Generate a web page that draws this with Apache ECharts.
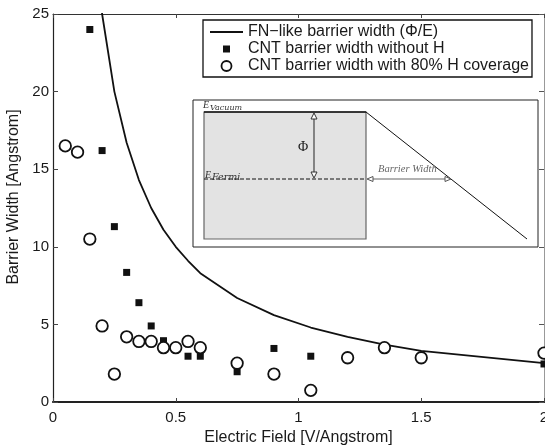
<!DOCTYPE html>
<html>
<head>
<meta charset="utf-8">
<style>
  html, body { margin: 0; padding: 0; background: #fff; }
  #main { width: 545px; height: 445px; }
</style>
<script src="https://cdn.jsdelivr.net/npm/echarts@6/dist/echarts.min.js"></script>
</head>
<body>
<div id="main"></div>
<script>
// field values (V/Angstrom) and barrier widths (Angstrom)
var fnField = [0.15, 0.2, 0.25, 0.3, 0.35, 0.4, 0.45, 0.5, 0.55, 0.6, 0.75, 0.9, 1.05, 1.2, 1.35, 1.5, 2];
var fnWidth = [33.3, 25, 20, 16.7, 14.3, 12.5, 11.1, 10, 9.1, 8.3, 6.7, 5.6, 4.8, 4.2, 3.7, 3.3, 2.5];

var noHField = [0.15, 0.2, 0.25, 0.3, 0.35, 0.4, 0.45, 0.55, 0.6, 0.75, 0.9, 1.05, 2];
var noHWidth = [24, 16.2, 11.3, 8.35, 6.4, 4.9, 3.95, 2.95, 2.95, 1.95, 3.45, 2.95, 2.45];

var hField = [0.05, 0.1, 0.15, 0.2, 0.25, 0.3, 0.35, 0.4, 0.45, 0.5, 0.55, 0.6, 0.75, 0.9, 1.05, 1.2, 1.35, 1.5, 2];
var hWidth = [16.5, 16.1, 10.5, 4.9, 1.8, 4.2, 3.9, 3.9, 3.5, 3.5, 3.9, 3.5, 2.5, 1.8, 0.75, 2.85, 3.5, 2.85, 3.15];

var seriesNames = [
  'FN\u2212like barrier width (\u03A6/E)',
  'CNT barrier width without H',
  'CNT barrier width with 80% H coverage'
];

function pairs(xs, ys) {
  return xs.map(function (x, i) { return [x, ys[i]]; });
}

var sans = "'Liberation Sans', Arial, Helvetica, sans-serif";
var serif = "'Liberation Serif', 'DejaVu Serif', serif";
var wideSerif = "'DejaVu Serif', serif";
var ink = '#1a1a1a';

var chart = echarts.init(document.getElementById('main'), null, { renderer: 'canvas' });

// inset sketch (energy diagram), pixel placed like the pasted picture in the figure
var inset = [
  { type: 'rect', shape: { x: 193, y: 100, width: 345, height: 147 },
    style: { fill: '#fff', stroke: '#222', lineWidth: 1 }, z: 10 },
  { type: 'rect', shape: { x: 204, y: 112, width: 162, height: 127 },
    style: { fill: '#e3e3e3', stroke: '#666', lineWidth: 1.2 }, z: 11 },
  { type: 'line', shape: { x1: 204, y1: 112, x2: 366, y2: 112 },
    style: { stroke: '#111', lineWidth: 1.3 }, z: 12 },
  { type: 'line', shape: { x1: 366, y1: 112, x2: 527, y2: 239 },
    style: { stroke: '#111', lineWidth: 1 }, z: 12 },
  { type: 'line', shape: { x1: 204, y1: 179, x2: 366, y2: 179 },
    style: { stroke: '#111', lineWidth: 1, lineDash: [4, 2] }, z: 12 },
  // phi arrow
  { type: 'line', shape: { x1: 314, y1: 118, x2: 314, y2: 173 },
    style: { stroke: '#444', lineWidth: 1.2 }, z: 12 },
  { type: 'polygon', shape: { points: [[314, 113], [311, 119], [317, 119]] },
    style: { fill: '#fff', stroke: '#333', lineWidth: 1 }, z: 13 },
  { type: 'polygon', shape: { points: [[314, 178], [311, 172], [317, 172]] },
    style: { fill: '#fff', stroke: '#333', lineWidth: 1 }, z: 13 },
  // barrier width arrow
  { type: 'line', shape: { x1: 372, y1: 179, x2: 446, y2: 179 },
    style: { stroke: '#666', lineWidth: 1.2 }, z: 12 },
  { type: 'polygon', shape: { points: [[367, 179], [373, 176.5], [373, 181.5]] },
    style: { fill: '#fff', stroke: '#555', lineWidth: 1 }, z: 13 },
  { type: 'polygon', shape: { points: [[451, 179], [445, 176.5], [445, 181.5]] },
    style: { fill: '#fff', stroke: '#555', lineWidth: 1 }, z: 13 },
  // labels
  { type: 'text', left: 203, top: 100, z: 13,
    style: { text: 'E', font: 'italic 10px ' + serif, fill: '#333' } },
  { type: 'text', left: 210, top: 103.5, z: 13,
    style: { text: 'Vacuum', font: 'italic 8px ' + wideSerif, fill: '#333' } },
  { type: 'text', left: 205, top: 170, z: 13,
    style: { text: 'E', font: 'italic 10px ' + serif, fill: '#333' } },
  { type: 'text', left: 212, top: 173, z: 13,
    style: { text: 'Fermi', font: 'italic 9.5px ' + wideSerif, fill: '#333' } },
  { type: 'text', left: 298, top: 140, z: 13,
    style: { text: '\u03A6', font: '14px ' + serif, fill: '#222' } },
  { type: 'text', left: 378, top: 164, z: 13,
    style: { text: 'Barrier Width', font: 'italic 10.5px ' + serif, fill: '#666' } }
];

var option = {
  backgroundColor: '#fff',
  animation: false,
  textStyle: { fontFamily: sans },
  grid: { left: 53, right: 1, top: 14, bottom: 43, containLabel: false, outerBoundsMode: 'none' },
  legend: {
    orient: 'vertical',
    left: 203,
    top: 20,
    padding: [4, 3, 3, 7],
    itemGap: 1,
    itemWidth: 33,
    itemHeight: 10,
    backgroundColor: '#fff',
    borderColor: '#111',
    borderWidth: 1.3,
    textStyle: { fontSize: 16, color: ink, fontFamily: sans },
    data: [
      { name: seriesNames[0], icon: 'path://M0,0h33v1.8h-33z',
        itemStyle: { color: '#111', borderWidth: 0 } },
      { name: seriesNames[1], icon: 'path://M0,0M10,10M1.5,1.5h7v7h-7z' },
      { name: seriesNames[2], icon: 'circle',
        itemStyle: { color: '#fff', borderColor: '#111', borderWidth: 1.8 } }
    ]
  },
  xAxis: [
    {
      type: 'value', position: 'bottom',
      min: 0, max: 2, interval: 0.5,
      name: 'Electric Field [V/Angstrom]',
      nameLocation: 'middle', nameGap: 17,
      nameTextStyle: { fontSize: 16, color: ink },
      axisLine: { lineStyle: { color: '#222', width: 2.2 } },
      axisTick: { inside: true, length: 4, lineStyle: { color: '#444' } },
      axisLabel: { fontSize: 15, color: ink, margin: 8 },
      splitLine: { show: false }
    },
    {
      type: 'value', position: 'top',
      min: 0, max: 2, interval: 0.5,
      axisLine: { onZero: false, lineStyle: { color: '#333', width: 1 } },
      axisTick: { inside: true, length: 4, lineStyle: { color: '#444' } },
      axisLabel: { show: false },
      splitLine: { show: false }
    }
  ],
  yAxis: [
    {
      type: 'value', position: 'left',
      min: 0, max: 25, interval: 5,
      name: 'Barrier Width [Angstrom]',
      nameLocation: 'middle', nameGap: 29,
      nameTextStyle: { fontSize: 16, color: ink, padding: [0, 0, 0, 22] },
      axisLine: { lineStyle: { color: '#222', width: 1.2 } },
      axisTick: { inside: true, length: 5, lineStyle: { color: '#444' } },
      axisLabel: { fontSize: 15, color: ink, margin: 4 },
      splitLine: { show: false }
    },
    {
      type: 'value', position: 'right',
      min: 0, max: 25, interval: 5,
      axisLine: { onZero: false, lineStyle: { color: '#999', width: 1 } },
      axisTick: { inside: true, length: 5, lineStyle: { color: '#555' } },
      axisLabel: { show: false },
      splitLine: { show: false }
    }
  ],
  series: [
    {
      name: seriesNames[0],
      type: 'line',
      data: pairs(fnField, fnWidth),
      symbol: 'none',
      clip: true,
      lineStyle: { color: '#111', width: 1.8 },
      itemStyle: { color: '#111' },
      z: 2
    },
    {
      name: seriesNames[1],
      type: 'scatter',
      data: pairs(noHField, noHWidth),
      symbol: 'rect',
      symbolSize: 7,
      itemStyle: { color: '#111', opacity: 1 },
      z: 3
    },
    {
      name: seriesNames[2],
      type: 'scatter',
      data: pairs(hField, hWidth),
      symbol: 'circle',
      symbolSize: 11.5,
      itemStyle: { color: '#fff', borderColor: '#111', borderWidth: 1.8, opacity: 1 },
      z: 4
    }
  ],
  graphic: inset
};

chart.setOption(option);
</script>
</body>
</html>
